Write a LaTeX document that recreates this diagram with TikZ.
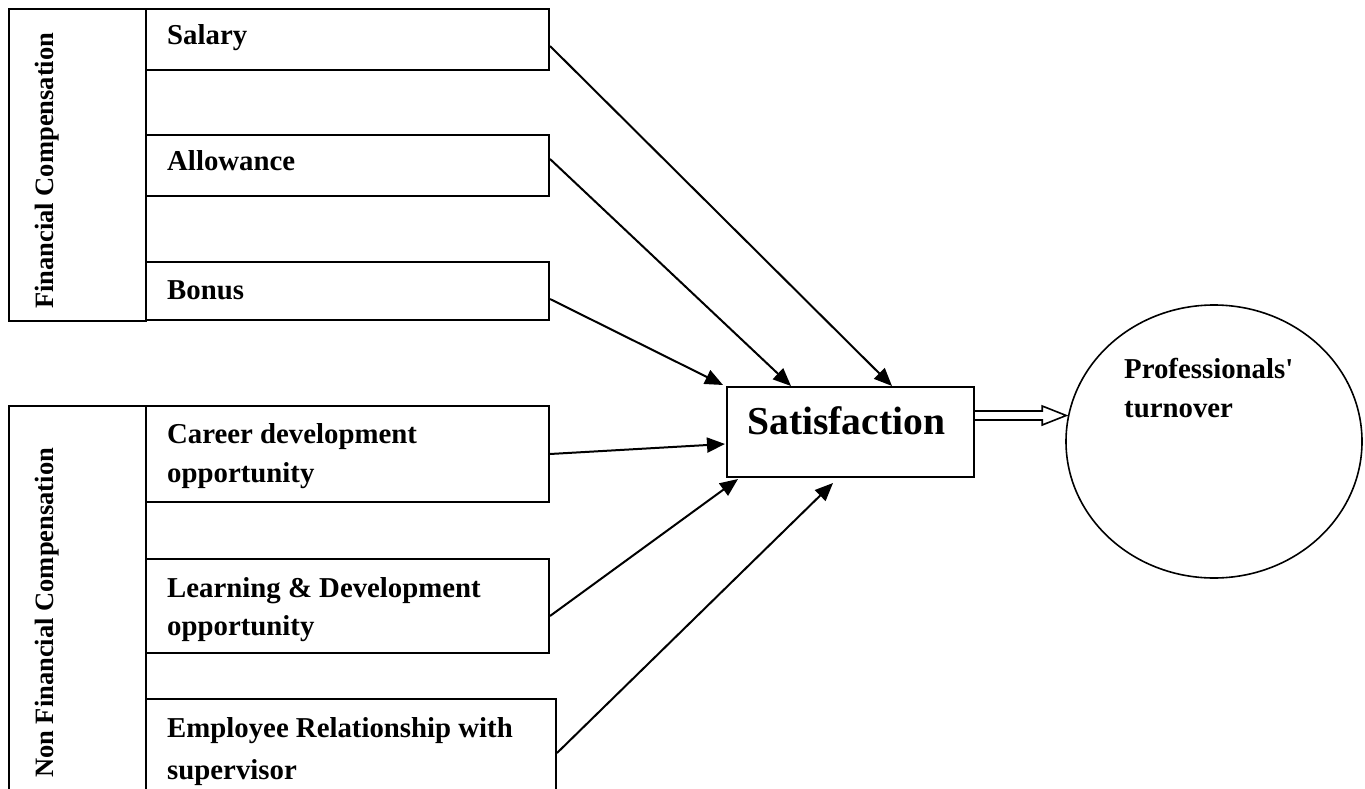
\documentclass[tikz,border=0pt]{standalone}
\usepackage{fontspec}
\setmainfont{Liberation Serif}
\usetikzlibrary{arrows.meta,shapes.geometric}
\begin{document}
\begin{tikzpicture}[x=1pt,y=-1pt,
 box/.style={draw, line width=2pt, inner sep=0pt, anchor=north west},
 lbl/.style={font=\bfseries\fontsize{28.8}{34}\selectfont, inner sep=0pt, anchor=base west},
 grp/.style={font=\bfseries\fontsize{26.5}{30}\selectfont, inner sep=0pt, anchor=base west, rotate=90},
 arr/.style={line width=2pt, -{Triangle[length=18pt,width=15pt]}},
 dbl/.style={line width=1.6pt}]
\clip (0,0) rectangle (1365,789);
\fill[white] (0,0) rectangle (1365,789);
% group boxes
\node[box, minimum width=137pt, minimum height=312pt] (fin) at (8,8) {};
\node[box, minimum width=137pt, minimum height=400pt] (nonfin) at (8,405) {};
% item boxes
\node[box, minimum width=403pt, minimum height=61pt] (salary) at (145,8) {};
\node[box, minimum width=403pt, minimum height=61pt] (allow) at (145,134) {};
\node[box, minimum width=403pt, minimum height=58pt] (bonus) at (145,261) {};
\node[box, minimum width=403pt, minimum height=96pt] (career) at (145,405) {};
\node[box, minimum width=403pt, minimum height=94pt] (learn) at (145,558) {};
\node[box, minimum width=410pt, minimum height=110pt] (emp) at (145,698) {};
\node[box, minimum width=247pt, minimum height=90pt] (sat) at (726,386) {};
\node[draw, ellipse, line width=1.6pt, minimum width=296pt, minimum height=273pt, inner sep=0pt] (turn) at (1214,441.5) {};
% texts
\node[grp] (finT) at (53,309) {Financial Compensation};
\node[grp] (nonfinT) at (53,778) {Non Financial Compensation};
\node[lbl] (salaryT) at (167,45) {Salary};
\node[lbl] (allowT) at (167,171) {Allowance};
\node[lbl] (bonusT) at (167,299) {Bonus};
\node[lbl] (careerT1) at (167,443) {Career development};
\node[lbl] (careerT2) at (167,482) {opportunity};
\node[lbl] (learnT1) at (167,597) {Learning \& Development};
\node[lbl] (learnT2) at (167,635) {opportunity};
\node[lbl] (empT1) at (167,737) {Employee Relationship with};
\node[lbl] (empT2) at (167,779) {supervisor};
\node[font=\bfseries\fontsize{39.6}{44}\selectfont, inner sep=0pt, anchor=base west] (satT) at (747,434) {Satisfaction};
\node[lbl] (turnT1) at (1124,378) {Professionals\textquotesingle};
\node[lbl] (turnT2) at (1124,417) {turnover};
% arrows
\draw[arr] ([yshift=-6.5pt]salary.east) -- ([xshift=41.5pt]sat.north);
\draw[arr] ([yshift=6.5pt]allow.east) -- ([xshift=-59.5pt]sat.north);
\draw[arr] ([yshift=-8pt]bonus.east) -- ([xshift=-3pt,yshift=1pt]sat.north west);
\draw[arr] (career.east) -- ([xshift=-1pt,yshift=-12pt]sat.west);
\draw[arr] ([yshift=-10pt]learn.east) -- ([xshift=12pt,yshift=-1pt]sat.south west);
\draw[arr] ([yshift=-55pt]emp.north east) -- ([xshift=-17.5pt,yshift=-5pt]sat.south);
% hollow double arrow
\coordinate (da) at ([yshift=16.5pt]sat.east);
\coordinate (db) at (da -| turn.west);
\coordinate (tip) at ([xshift=1pt]db);
\draw[dbl] ([yshift=4.5pt]da) -- ([xshift=-24pt,yshift=4.5pt]tip) -- ([xshift=-24pt,yshift=9.5pt]tip) -- (tip) -- ([xshift=-24pt,yshift=-9.5pt]tip) -- ([xshift=-24pt,yshift=-4.5pt]tip) -- ([yshift=-4.5pt]da);
\end{tikzpicture}
\end{document}
